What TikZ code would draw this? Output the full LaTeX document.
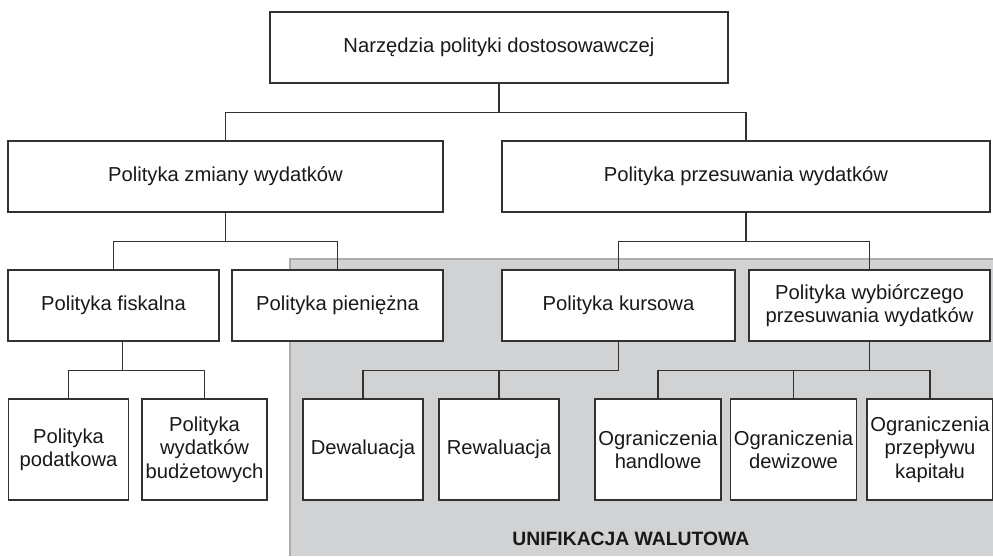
\documentclass[tikz,border=0pt]{standalone}
\usepackage{fontspec}
\setmainfont{Liberation Sans}
\definecolor{areagray}{RGB}{209,210,212}
\definecolor{edgegray}{RGB}{170,171,173}
\definecolor{linegray}{RGB}{50,50,50}
\definecolor{txtgray}{RGB}{25,25,25}
\tikzset{
  box/.style={draw=linegray, line width=0.8pt, fill=white, text=txtgray,
    align=center, inner sep=2pt, minimum height=1.42cm,
    font=\fontsize{11.5}{13.3}\selectfont},
  leaf/.style={box, minimum width=2.4cm, minimum height=2.02cm},
  link/.style={draw=linegray, line width=0.7pt}
}
\begin{document}
\begin{tikzpicture}[x=0.02cm, y=-0.02cm]
  \useasboundingbox (0,0) rectangle (993,556);
  % Shaded area
  \fill[areagray] (290,259) rectangle (993,556);
  \draw[edgegray, line width=0.6pt] (290,556) -- (290,259) -- (993,259);
  \node[anchor=base west, text=txtgray, inner sep=0pt, font=\fontsize{11}{13}\bfseries]
    (unif) at (512,545) {UNIFIKACJA WALUTOWA};
  % Top level
  \node[box, minimum width=9.16cm] (top) at (499,47.5) {Narzędzia polityki dostosowawczej};
  % Second level
  \node[box, minimum width=8.7cm] (zmiany) at (225.5,176.5) {Polityka zmiany wydatków};
  \node[box, minimum width=9.76cm] (przes) at (746,176.5) {Polityka przesuwania wydatków};
  % Third level
  \node[box, minimum width=4.22cm] (fisk) at (113.5,305.5) {Polityka fiskalna};
  \node[box, minimum width=4.22cm] (pien) at (337.5,305.5) {Polityka pieniężna};
  \node[box, minimum width=4.66cm] (kurs) at (618.5,305.5) {Polityka kursowa};
  \node[box, minimum width=4.82cm] (wyb) at (869.5,305.5) {Polityka wybiórczego\\przesuwania wydatków};
  % Leaves
  \node[leaf] (podat) at (68.5,449.5) {Polityka\\podatkowa};
  \node[leaf] (budz) at (204.5,449.5) {Polityka\\wydatków\\budżetowych};
  \node[leaf] (dew) at (363,449.5) {Dewaluacja};
  \node[leaf] (rew) at (499,449.5) {Rewaluacja};
  \node[leaf] (handl) at (658,449.5) {Ograniczenia\\handlowe};
  \node[leaf] (dewiz) at (793.5,449.5) {Ograniczenia\\dewizowe};
  \node[leaf] (kapit) at (930,449.5) {Ograniczenia\\przepływu\\kapitału};
  % Connectors
  \draw[link] (top.south) -- ++(0,29) coordinate (b1);
  \draw[link] (zmiany.north) |- (b1) -| (przes.north);
  \draw[link] (zmiany.south) -- ++(0,29) coordinate (b2);
  \draw[link] (fisk.north) |- (b2) -| (pien.north);
  \draw[link] (przes.south) -- ++(0,29) coordinate (b3);
  \draw[link] (kurs.north) |- (b3) -| (wyb.north);
  \draw[link] ([xshift=0.18cm]fisk.south) -- ++(0,29) coordinate (b4);
  \draw[link] (podat.north) |- (b4) -| (budz.north);
  \draw[link] (kurs.south) -- ++(0,29) coordinate (b5);
  \draw[link] (dew.north) |- (b5);
  \draw[link] (rew.north) -- (rew.north |- b5);
  \draw[link] (wyb.south) -- ++(0,29) coordinate (b6);
  \draw[link] (handl.north) |- (b6) -| (kapit.north);
  \draw[link] (dewiz.north) -- (dewiz.north |- b6);
\end{tikzpicture}
\end{document}
